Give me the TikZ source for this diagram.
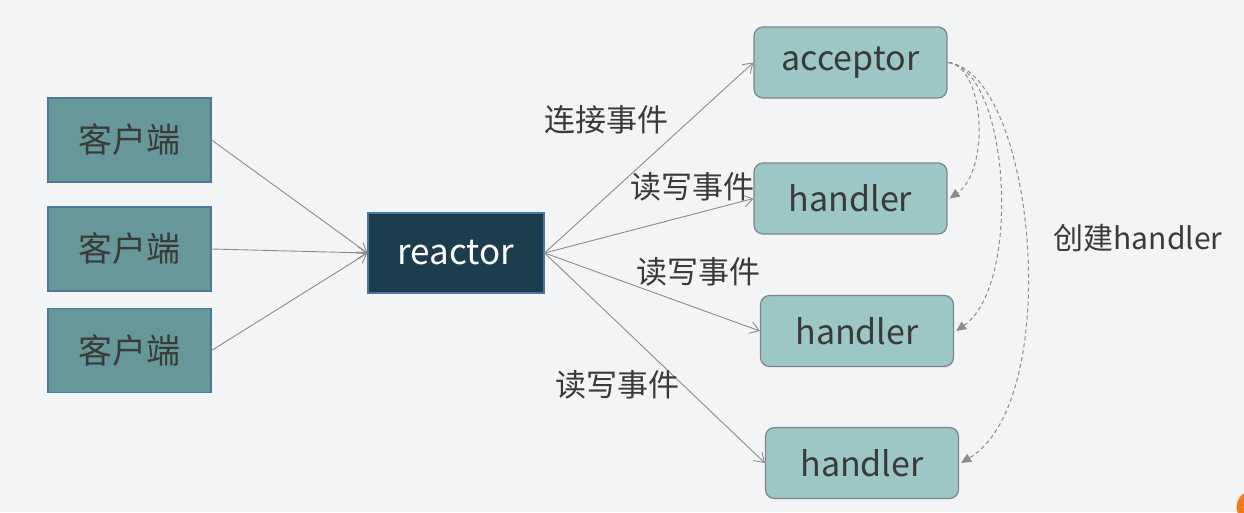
\documentclass[tikz,border=0pt]{standalone}
\usepackage{fontspec}
\setmainfont{Noto Sans CJK SC}
\usetikzlibrary{arrows.meta}
\definecolor{bg}{HTML}{F2F4F6}
\definecolor{client}{HTML}{66989A}
\definecolor{clientb}{HTML}{4C78A0}
\definecolor{reactorc}{HTML}{1B3D4E}
\definecolor{hand}{HTML}{9DC6C7}
\definecolor{handb}{HTML}{7F8587}
\definecolor{txt}{HTML}{3A3A3A}
\definecolor{ln}{HTML}{8C8C8C}
\definecolor{orangec}{HTML}{F07A1E}
\tikzset{
  clientbox/.style={draw=clientb, line width=1.2pt, fill=client, minimum width=163pt, minimum height=84pt, text=txt, font=\fontsize{34}{34}\selectfont, inner sep=0pt},
  reactorbox/.style={draw=clientb, line width=1.2pt, fill=reactorc, minimum width=176pt, minimum height=80pt, text=white, font=\fontsize{35}{35}\selectfont, inner sep=0pt},
  handbox/.style={draw=handb, line width=1.2pt, fill=hand, rounded corners=9pt, minimum width=193pt, minimum height=71pt, text=txt, font=\fontsize{34}{34}\selectfont, inner sep=0pt},
  conn/.style={draw=ln, line width=0.9pt, -{Straight Barb[length=9pt,width=12pt,line width=0.9pt]}},
  dconn/.style={draw=ln, line width=1pt, dashed, dash pattern=on 4pt off 3pt, -{Triangle[length=10pt,width=9pt]}},
  lbl/.style={text=txt, font=\fontsize{31}{31}\selectfont, inner sep=0pt}
}
\begin{document}
\begin{tikzpicture}[x=1pt,y=-1pt]
\fill[bg] (0,0) rectangle (1244,512);
\useasboundingbox (0,0) rectangle (1244,512);
\node[clientbox] (c1) at (129.5,140) {客户端};
\node[clientbox] (c2) at (129.5,249) {客户端};
\node[clientbox] (c3) at (129.5,350.5) {客户端};
\node[reactorbox] (r) at (456,253) {reactor};
\node[handbox] (acc) at (850.5,62.5) {acceptor};
\node[handbox] (h1) at (850.5,198.5) {handler};
\node[handbox] (h2) at (857,331) {handler};
\node[handbox] (h3) at (862,463) {handler};
\draw[conn] (c1.east) -- (r.west);
\draw[conn] (c2.east) -- (r.west);
\draw[conn] (c3.east) -- (r.west);
\draw[conn] (r.east) -- (acc.west);
\draw[conn] (r.east) -- (h1.west);
\draw[conn] (r.east) -- (h2.west);
\draw[conn] (r.east) -- (h3.west);
\node[lbl] (l1) at (606,120) {连接事件};
\node[lbl] (l2) at (692,187) {读写事件};
\node[lbl] (l3) at (698,272) {读写事件};
\node[lbl] (l4) at (617,385) {读写事件};
\coordinate (s) at ([xshift=1pt]acc.east);
\draw[dconn] (s) .. controls (985,68) and (990,170) .. ([xshift=2pt]h1.east);
\draw[dconn] (s) .. controls (1010,72) and (1022,285) .. ([xshift=2pt]h2.east);
\draw[dconn] (s) .. controls (1035,75) and (1065,400) .. ([xshift=2pt]h3.east);
\node[lbl, font=\fontsize{30}{30}\selectfont] (cl) at (1138,238) {创建handler};
\draw[orangec, line width=7pt] (1253,507) circle (13);
\end{tikzpicture}
\end{document}
